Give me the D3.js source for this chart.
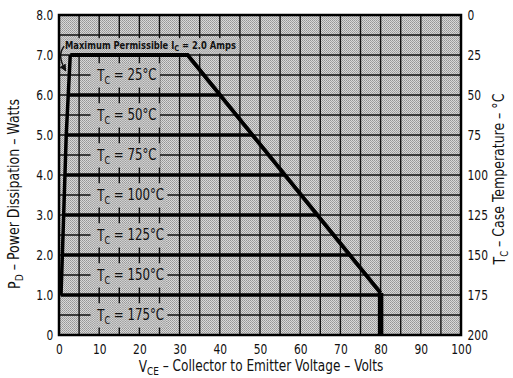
<!DOCTYPE html>
<html>
<head>
<meta charset="utf-8">
<script src="https://cdn.jsdelivr.net/npm/d3@7"></script>
<style>
  body { margin: 0; background: #fff; }
  text { font-family: "DejaVu Sans Condensed", "Liberation Sans Narrow", sans-serif; fill: #111; }
</style>
</head>
<body>
<div id="chart"></div>
<script>
// chart values
const powerTicks = [0, 1, 2, 3, 4, 5, 6, 7, 8];
const voltTicks = [0, 10, 20, 30, 40, 50, 60, 70, 80, 90, 100];
const caseTempTicks = [0, 25, 50, 75, 100, 125, 150, 175, 200];
// one row per case temperature: power level, start and end voltage of the line
const caseTemps = [25, 50, 75, 100, 125, 150, 175];
const tempPower = [7, 6, 5, 4, 3, 2, 1];
const tempStartV = [2.8, 2.4, 2.0, 1.6, 1.3, 0.9, 0.5];
const tempEndV = [32, 40.1, 48.1, 56.2, 64.2, 72.3, 80];
// Ic = 2.0 A limit line and the outer derating boundary (volts, watts)
const icLimit = [[0.5, 1.0], [1.0, 2.5], [1.8, 5.0], [2.8, 7.0]];
const boundary = [[2.8, 7.0], [32, 7.0], [80, 1.05], [80, 0]];

(function () {
  const W = 513, H = 378;
  const margin = { top: 15, right: 52, bottom: 43, left: 59 };

  const svg = d3.select("#chart").append("svg")
    .attr("width", W).attr("height", H);

  const x = d3.scaleLinear().domain([0, 100]).range([margin.left, W - margin.right]);
  const y = d3.scaleLinear().domain([0, 8]).range([H - margin.bottom, margin.top]);
  const yT = d3.scaleLinear().domain([0, 200]).range([margin.top, H - margin.bottom]);

  // narrow text: squeeze horizontally inside its own group
  function squeezed(parent, tf, sx, size) {
    return parent.append("g").attr("transform", `${tf} scale(${sx},1)`)
      .append("text").attr("font-size", size);
  }

  // halftone-ish fill
  const defs = svg.append("defs");
  const pat = defs.append("pattern").attr("id", "dots")
    .attr("width", 2).attr("height", 2).attr("patternUnits", "userSpaceOnUse");
  pat.append("rect").attr("width", 2).attr("height", 2).attr("fill", "#d8d8d8");
  pat.append("rect").attr("width", 1).attr("height", 1).attr("fill", "#969696");
  pat.append("rect").attr("x", 1).attr("y", 1).attr("width", 1).attr("height", 1).attr("fill", "#a4a4a4");

  defs.append("marker").attr("id", "arr")
    .attr("viewBox", "0 0 10 10").attr("refX", 8).attr("refY", 5)
    .attr("markerWidth", 5).attr("markerHeight", 5).attr("orient", "auto")
    .append("path").attr("d", "M0,0 L10,5 L0,10 z").attr("fill", "#111");

  svg.append("rect")
    .attr("x", x(0)).attr("y", y(8))
    .attr("width", x(100) - x(0)).attr("height", y(0) - y(8))
    .attr("fill", "url(#dots)");

  // grid every 5 V and 0.5 W
  const grid = svg.append("g").attr("stroke", "#111").attr("stroke-width", 1.4);
  grid.selectAll(".vg").data(d3.range(5, 100, 5)).join("line")
    .attr("x1", d => x(d)).attr("x2", d => x(d))
    .attr("y1", y(0)).attr("y2", y(8));
  grid.selectAll(".hg").data(d3.range(0.5, 8, 0.5)).join("line")
    .attr("x1", x(0)).attr("x2", x(100))
    .attr("y1", d => y(d)).attr("y2", d => y(d));

  // labels, with backgrounds that cover the grid
  const labels = svg.append("g");

  const maxText = squeezed(labels, `translate(${x(1.5)},${y(7.25)})`, 0.93, 10)
    .attr("dy", "0.35em").attr("font-weight", "bold");
  maxText.append("tspan").text("Maximum Permissible I");
  maxText.append("tspan").attr("font-size", 8).attr("dy", "0.25em").text("C");
  maxText.append("tspan").attr("dy", "-0.2em").text(" = 2.0 Amps");

  caseTemps.forEach((t, i) => {
    const tx = squeezed(labels, `translate(${x(9.5)},${y(tempPower[i] - 0.5)})`, 0.82, 16)
      .attr("dy", "0.38em");
    tx.append("tspan").text("T");
    tx.append("tspan").attr("font-size", 11).attr("dy", "0.3em").text("C");
    tx.append("tspan").attr("dy", "-0.3em").text(` = ${t}°C`);
  });

  labels.selectAll("text").each(function () {
    const b = this.getBBox();
    d3.select(this.parentNode).insert("rect", () => this)
      .attr("x", b.x - 7).attr("y", b.y - 1)
      .attr("width", b.width + 11).attr("height", b.height + 2)
      .attr("fill", "url(#dots)");
  });

  // curves
  const line = d3.line().x(d => x(d[0])).y(d => y(d[1]));
  const curves = svg.append("g").attr("fill", "none").attr("stroke", "#000")
    .attr("stroke-linejoin", "miter");
  curves.append("path").datum(icLimit).attr("d", line).attr("stroke-width", 3.5);
  curves.append("path").datum(boundary.slice(0, 3)).attr("d", line).attr("stroke-width", 4);
  curves.append("path").datum(boundary.slice(2)).attr("d", line).attr("stroke-width", 5.5);
  curves.selectAll(".tc").data(tempPower.slice(1)).join("line")
    .attr("x1", (d, i) => x(tempStartV[i + 1]))
    .attr("x2", (d, i) => x(tempEndV[i + 1]))
    .attr("y1", d => y(d)).attr("y2", d => y(d))
    .attr("stroke-width", 3.5);

  // arrow from the annotation to the Ic line
  svg.append("path")
    .attr("d", `M${x(1.3)},${y(7.22)} Q${x(-0.6)},${y(7.0)} ${x(1.6)},${y(6.62)}`)
    .attr("fill", "none").attr("stroke", "#111").attr("stroke-width", 1.4)
    .attr("marker-end", "url(#arr)");

  // frame
  svg.append("rect")
    .attr("x", x(0)).attr("y", y(8))
    .attr("width", x(100) - x(0)).attr("height", y(0) - y(8))
    .attr("fill", "none").attr("stroke", "#000").attr("stroke-width", 2.5);

  // axes
  const fmtP = d => d === 0 ? "0" : d3.format(".1f")(d);
  const left = svg.append("g").attr("transform", `translate(${x(0)},0)`)
    .call(d3.axisLeft(y).tickValues(powerTicks).tickFormat(fmtP).tickSize(0).tickPadding(7));
  const bottom = svg.append("g").attr("transform", `translate(0,${y(0)})`)
    .call(d3.axisBottom(x).tickValues(voltTicks).tickSize(0).tickPadding(9));
  const right = svg.append("g").attr("transform", `translate(${x(100)},0)`)
    .call(d3.axisRight(yT).tickValues(caseTempTicks).tickSize(0).tickPadding(8));
  [left, bottom, right].forEach(a => {
    a.select(".domain").remove();
    a.selectAll("text").attr("font-size", 14.5).attr("fill", "#111")
      .attr("transform", "scale(0.82,1)")
      .style("font-family", '"DejaVu Sans Condensed", sans-serif');
  });

  // titles
  const xt = squeezed(svg, "translate(261,372)", 0.9, 15).attr("text-anchor", "middle");
  xt.append("tspan").text("V");
  xt.append("tspan").attr("font-size", 11).attr("dy", "0.3em").text("CE");
  xt.append("tspan").attr("dy", "-0.3em").text(" \u2013 Collector to Emitter Voltage \u2013 Volts");

  const yl = squeezed(svg, "translate(20,194) rotate(-90)", 0.93, 15).attr("text-anchor", "middle");
  yl.append("tspan").text("P");
  yl.append("tspan").attr("font-size", 11).attr("dy", "0.3em").text("D");
  yl.append("tspan").attr("dy", "-0.3em").text(" \u2013 Power Dissipation \u2013 Watts");

  const yr = squeezed(svg, "translate(505,179) rotate(-90)", 0.93, 15).attr("text-anchor", "middle");
  yr.append("tspan").text("T");
  yr.append("tspan").attr("font-size", 10).attr("dy", "0.25em").text("C");
  yr.append("tspan").attr("dy", "-0.25em").text(" \u2013 Case Temperature \u2013 °C");
})();
</script>
</body>
</html>
